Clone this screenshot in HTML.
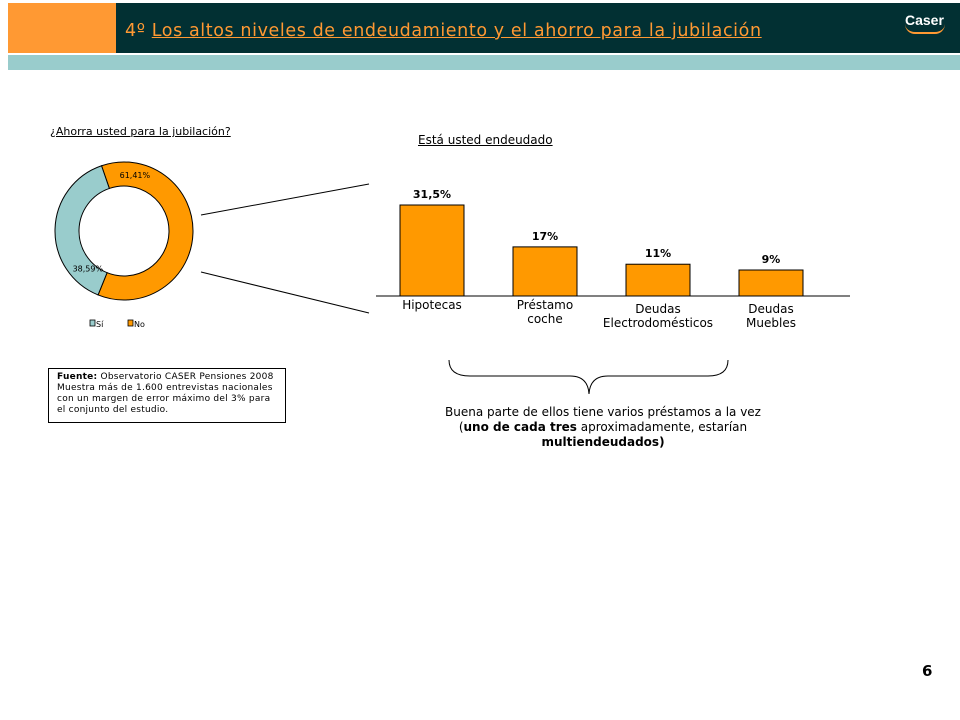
<!DOCTYPE html>
<html><head><meta charset="utf-8"><style>
body{margin:0;width:960px;height:720px;background:#fff;position:relative;overflow:hidden;font-family:"DejaVu Sans","Liberation Sans",sans-serif}
.abs{position:absolute}
</style></head><body>
<div class="abs" style="left:8px;top:3px;width:952px;height:50px;background:#023033"></div>
<div class="abs" style="left:8px;top:3px;width:108px;height:50px;background:#FF9933"></div>
<div class="abs" style="left:8px;top:53px;width:952px;height:2px;background:#fff"></div>
<div class="abs" style="left:8px;top:55px;width:952px;height:15px;background:#99CCCC"></div>
<div class="abs" style="left:125px;top:21px;font-size:17.5px;letter-spacing:0.6px;color:#FF9933;white-space:nowrap">4º <span style="text-decoration:underline">Los altos niveles de endeudamiento y el ahorro para la jubilación</span></div>
<div class="abs" style="left:905px;top:12px;font-size:14px;font-weight:bold;color:#fff;font-family:'Liberation Sans',sans-serif">Caser<div style="width:40px;height:8px;border-bottom:2px solid #FF9933;border-radius:0 0 20px 20px;margin-top:-4px"></div></div>

<div class="abs" style="left:50px;top:125px;font-size:11px;text-decoration:underline;color:#000">¿Ahorra usted para la jubilación?</div>
<svg class="abs" style="left:0;top:0" width="960" height="720">
<g id="donut"></g>
<g id="bars"></g>
<line x1="201" y1="215" x2="369" y2="184" stroke="#000" stroke-width="1"/>
<line x1="201" y1="272" x2="369" y2="313" stroke="#000" stroke-width="1"/>
<path d="M449,360 Q449,376 470,376 L570,376 Q588,376 589,394 Q590,376 608,376 L708,376 Q728,376 728,360" fill="none" stroke="#000" stroke-width="1"/>
<rect x="90" y="320" width="5" height="6" fill="#99CCCC" stroke="#000" stroke-width="0.8"/>
<text x="96" y="327" font-size="8">Sí</text>
<rect x="128" y="320" width="5" height="6" fill="#FF9900" stroke="#000" stroke-width="0.8"/>
<text x="134" y="327" font-size="8">No</text>
</svg>
<div class="abs" style="left:418px;top:133px;font-size:12px;text-decoration:underline">Está usted endeudado</div>
<div class="abs" style="left:48px;top:368px;width:228px;height:50px;border:1px solid #000;font-size:9px;letter-spacing:0.25px;line-height:11px;padding:3px 0 0 8px;white-space:nowrap">
<b>Fuente:</b>  Observatorio CASER Pensiones 2008<br>Muestra más de 1.600 entrevistas nacionales<br>con un margen de error máximo del 3% para<br>el conjunto del estudio.</div>
<div class="abs" style="left:438px;top:405px;width:330px;text-align:center;font-size:12px;line-height:15px">Buena parte de ellos tiene varios préstamos a la vez<br>(<b>uno de cada tres</b> aproximadamente, estarían<br><b>multiendeudados)</b></div>
<div class="abs" style="left:922px;top:662px;font-size:15px;font-weight:bold">6</div>
<script>
const NS='http://www.w3.org/2000/svg';
const pieLabels=['Sí','No'];
const pieValues=[38.59,61.41];
const pieText=['38,59%','61,41%'];
const categories=[['Hipotecas'],['Préstamo','coche'],['Deudas','Electrodomésticos'],['Deudas','Muebles']];
const values=[31.5,17,11,9];
const valueLabels=['31,5%','17%','11%','9%'];
function mk(t,a,p){const e=document.createElementNS(NS,t);for(const k in a)e.setAttribute(k,a[k]);p.appendChild(e);return e;}
const dg=document.getElementById('donut');
const cx=124,cy=231,ro=69,ri=45;
let start=-19;
const colors=['#99CCCC','#FF9900'];
const total=pieValues.reduce((a,b)=>a+b,0);
function pt(r,a){const t=a*Math.PI/180;return [cx+r*Math.sin(t),cy-r*Math.cos(t)];}
[1,0].forEach(i=>{
 const sweep=pieValues[i]/total*360;const end=start+sweep;
 const [x1,y1]=pt(ro,start),[x2,y2]=pt(ro,end),[x3,y3]=pt(ri,end),[x4,y4]=pt(ri,start);
 const lg=sweep>180?1:0;
 const p=mk('path',{d:`M${x1},${y1} A${ro},${ro} 0 ${lg} 1 ${x2},${y2} L${x3},${y3} A${ri},${ri} 0 ${lg} 0 ${x4},${y4} Z`,fill:colors[i],stroke:'#000','stroke-width':1},dg);
 
 
 const lp=i?pt(57,start+30):pt(52,start+22);
 const t=mk('text',{x:lp[0],y:lp[1]+3,'font-size':8,'text-anchor':'middle'},dg);t.textContent=pieText[i];
 
 
 start=end;
});
const bg=document.getElementById('bars');
const base=296,scale=91/31.5,x0=400,step=113,bw=64;
const yOf=v=>base-v*scale;
values.forEach((v,i)=>{
 const x=x0+i*step;
 const r=mk('rect',{x:x,y:yOf(v),width:bw,height:base-yOf(v),fill:'#FF9900',stroke:'#000','stroke-width':1},bg);
 
 
 const t=mk('text',{x:x+bw/2,y:yOf(v)-7,'font-size':11,'font-weight':'bold','text-anchor':'middle'},bg);t.textContent=valueLabels[i];
 
 
 categories[i].forEach((s,j)=>{const c=mk('text',{x:x+bw/2,y:base+(categories[i].length>1&&i>1?17:13)+j*14,'font-size':12,'text-anchor':'middle'},bg);c.textContent=s;
 
 });
});
const ax=mk('line',{x1:376,y1:base,x2:850,y2:base,stroke:'#000','stroke-width':1},bg);


</script>
</body></html>
